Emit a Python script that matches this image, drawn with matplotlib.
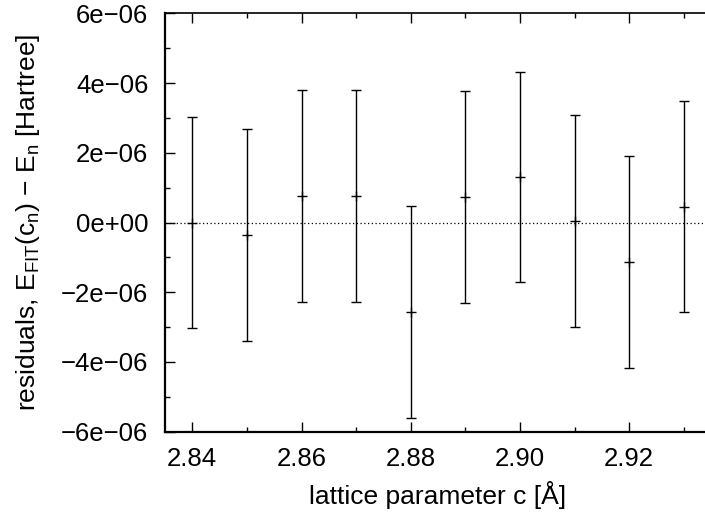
import matplotlib
matplotlib.use("Agg")
import matplotlib.pyplot as plt
from matplotlib.ticker import MultipleLocator, FuncFormatter

plt.rcParams['font.family'] = ['Liberation Sans', 'DejaVu Sans']
plt.rcParams['mathtext.default'] = 'regular'

# data
lattice_c = [2.84, 2.85, 2.86, 2.87, 2.88, 2.89, 2.90, 2.91, 2.92, 2.93]
residuals = [0.00e-6, -0.355e-6, 0.764e-6, 0.764e-6, -2.57e-6, 0.73e-6, 1.30e-6, 0.04e-6, -1.12e-6, 0.45e-6]
errors = [3.03e-6, 3.03e-6, 3.03e-6, 3.03e-6, 3.03e-6, 3.04e-6, 3.02e-6, 3.03e-6, 3.04e-6, 3.03e-6]

fig = plt.figure(figsize=(7.05, 5.16), dpi=100)
ax = fig.add_axes([165/705, 84.3/516, (711-165)/705, (431.7-13.3)/516])

ax.axhline(0, color='black', lw=0.9, ls=(0, (1, 2)), zorder=1)
ax.errorbar(lattice_c, residuals, yerr=errors, fmt='+', color='black',
            ecolor='black', elinewidth=1.0, capsize=3.5, capthick=1.0,
            markersize=7, markeredgewidth=1.0, zorder=3)

ax.set_xlim(2.835, 2.935)
ax.set_ylim(-6e-6, 6e-6)
ax.xaxis.set_major_locator(MultipleLocator(0.02))
ax.xaxis.set_minor_locator(MultipleLocator(0.01))
ax.yaxis.set_major_locator(MultipleLocator(2e-6))
ax.yaxis.set_minor_locator(MultipleLocator(1e-6))
ax.xaxis.set_major_formatter(FuncFormatter(lambda v, p: f"{v:.2f}"))
ax.yaxis.set_major_formatter(FuncFormatter(lambda v, p: f"{v:.0e}".replace('-', '\u2212')))

ax.tick_params(which='both', direction='in', top=True, right=False, width=1.0, labelsize=18.5)
ax.tick_params(which='major', length=7)
ax.tick_params(which='minor', length=3.5)
ax.tick_params(axis='y', which='major', pad=12)
ax.tick_params(axis='x', which='major', pad=11)

for side in ['left', 'bottom']:
    ax.spines[side].set_linewidth(1.6)
ax.spines['top'].set_linewidth(1.2)
ax.spines['right'].set_visible(False)

ax.set_xlabel('lattice parameter c [Å]', fontsize=19)
ax.set_ylabel('residuals, E$_{FIT}$(c$_n$) \u2212 E$_n$ [Hartree]', fontsize=19)
ax.yaxis.set_label_coords((42 - 165) / 546, 0.5)
ax.xaxis.set_label_coords(0.5, -(481 - 431.7) / 418.4)

fig.savefig('out.png', dpi=100)
